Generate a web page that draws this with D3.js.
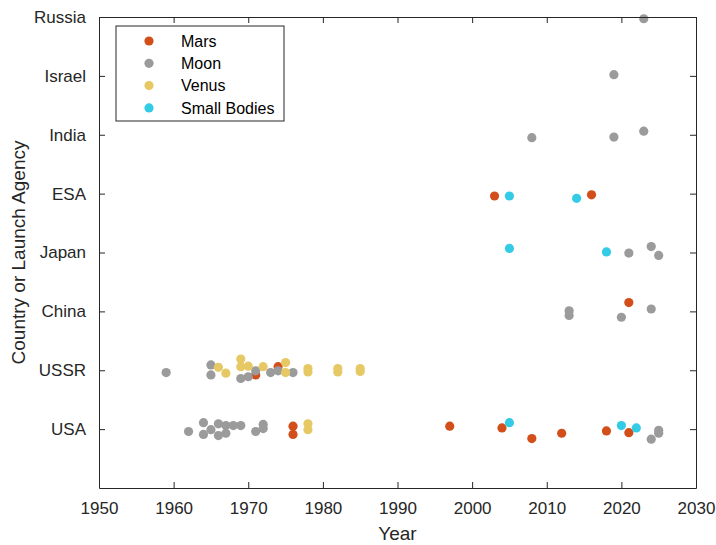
<!DOCTYPE html>
<html>
<head>
<meta charset="utf-8">
<script src="https://cdn.jsdelivr.net/npm/d3@7"></script>
<style>
  body { margin: 0; background: #fff; }
  svg text { font-family: "Liberation Sans", Arial, sans-serif; fill: #262626; }
</style>
</head>
<body>
<div id="chart"></div>
<script>
// categories on the y axis, bottom to top
const countries = ['USA', 'USSR', 'China', 'Japan', 'ESA', 'India', 'Israel', 'Russia'];
const xTicks = [1950, 1960, 1970, 1980, 1990, 2000, 2010, 2020, 2030];
const seriesNames = ['Mars', 'Moon', 'Venus', 'Small Bodies'];
const seriesColors = ['#d24f1c', '#9b9b9b', '#e6c965', '#33cbe6'];

// each mission: launch year, country, vertical swarm offset (category units)
const marsYear    = [1971, 1974, 1976, 1976, 1997, 2003, 2004, 2008, 2012, 2016, 2018, 2021, 2021];
const marsCountry = ['USSR', 'USSR', 'USA', 'USA', 'USA', 'ESA', 'USA', 'USA', 'USA', 'ESA', 'USA', 'USA', 'China'];
const marsJitter  = [-0.08, 0.06, 0.05, -0.09, 0.05, -0.04, 0.02, -0.16, -0.07, -0.02, -0.03, -0.06, 0.15];

const moonYear    = [1959, 1962, 1964, 1964, 1965, 1965, 1965, 1966, 1966, 1967, 1967, 1968, 1969,
                     1969, 1970, 1971, 1971, 1972, 1972, 1973, 1974, 1976, 2008, 2013, 2013, 2019,
                     2019, 2020, 2021, 2023, 2023, 2024, 2024, 2024, 2025, 2025, 2025];
const moonCountry = ['USSR', 'USA', 'USA', 'USA', 'USA', 'USSR', 'USSR', 'USA', 'USA', 'USA', 'USA', 'USA', 'USA',
                     'USSR', 'USSR', 'USA', 'USSR', 'USA', 'USA', 'USSR', 'USSR', 'USSR', 'India', 'China', 'China', 'Israel',
                     'India', 'China', 'Japan', 'India', 'Russia', 'USA', 'China', 'Japan', 'USA', 'USA', 'Japan'];
const moonJitter  = [-0.04, -0.04, 0.11, -0.09, -0.01, 0.09, -0.08, 0.09, -0.11, 0.06, -0.07, 0.06, 0.06,
                     -0.14, -0.11, -0.04, -0.01, 0.08, 0.01, -0.04, -0.01, -0.04, -0.05, 0.01, -0.07, 0.02,
                     -0.04, -0.10, -0.01, 0.06, -0.03, -0.17, 0.04, 0.10, -0.02, -0.07, -0.05];

const venusYear    = [1966, 1967, 1969, 1969, 1970, 1972, 1975, 1975, 1978, 1978, 1978, 1978, 1982, 1982, 1985, 1985];
const venusCountry = ['USSR', 'USSR', 'USSR', 'USSR', 'USSR', 'USSR', 'USSR', 'USSR', 'USA', 'USA', 'USSR', 'USSR',
                      'USSR', 'USSR', 'USSR', 'USSR'];
const venusJitter  = [0.05, -0.05, 0.19, 0.06, 0.07, 0.06, 0.13, -0.04, 0.09, -0.01, 0.03, -0.03, 0.03, -0.03, 0.03, -0.02];

const smallYear    = [2005, 2005, 2005, 2014, 2018, 2020, 2022];
const smallCountry = ['USA', 'ESA', 'Japan', 'ESA', 'Japan', 'USA', 'USA'];
const smallJitter  = [0.11, -0.04, 0.07, -0.08, 0.01, 0.06, 0.02];

const W = 716, H = 545;
const margin = { top: 17, right: 20, bottom: 57, left: 99 };
const width = W - margin.left - margin.right;
const height = H - margin.top - margin.bottom;

const svg = d3.select('#chart').append('svg')
    .attr('width', W)
    .attr('height', H);

const g = svg.append('g')
    .attr('transform', `translate(${margin.left},${margin.top})`);

const x = d3.scaleLinear().domain([1950, 2030]).range([0, width]);
const y = d3.scaleLinear().domain([0, countries.length]).range([height, 0]);
const catPos = c => countries.indexOf(c) + 1;

// points, series by series
const series = [
    { year: marsYear, country: marsCountry, jitter: marsJitter },
    { year: moonYear, country: moonCountry, jitter: moonJitter },
    { year: venusYear, country: venusCountry, jitter: venusJitter },
    { year: smallYear, country: smallCountry, jitter: smallJitter }
];

series.forEach((s, k) => {
    const pts = s.year.map((yr, i) => ({ yr, c: s.country[i], j: s.jitter[i] }));
    g.append('g').selectAll('circle')
        .data(pts)
        .enter().append('circle')
        .attr('cx', d => x(d.yr))
        .attr('cy', d => y(catPos(d.c) + d.j))
        .attr('r', 4.6)
        .style('fill', seriesColors[k]);
});

// axes (box with inward ticks)
const tickLen = 6;
const axisColor = '#262626';

const xb = g.append('g').attr('transform', `translate(0,${height})`)
    .call(d3.axisBottom(x).tickValues(xTicks).tickFormat(d3.format('d')).tickSizeInner(-tickLen).tickSizeOuter(0).tickPadding(14));
const xt = g.append('g')
    .call(d3.axisTop(x).tickValues(xTicks).tickFormat('').tickSizeInner(-tickLen).tickSizeOuter(0));
const yl = g.append('g')
    .call(d3.axisLeft(y).tickValues(d3.range(1, countries.length + 1))
        .tickFormat(i => countries[i - 1]).tickSizeInner(-tickLen).tickSizeOuter(0).tickPadding(13));
const yr = g.append('g').attr('transform', `translate(${width},0)`)
    .call(d3.axisRight(y).tickValues(d3.range(1, countries.length + 1)).tickFormat('').tickSizeInner(-tickLen).tickSizeOuter(0));

[xb, xt, yl, yr].forEach(a => {
    a.select('.domain').attr('stroke', axisColor).attr('stroke-width', 1);
    a.selectAll('.tick line').attr('stroke', axisColor).attr('stroke-width', 1);
    a.selectAll('.tick text').style('font-size', '17px').attr('fill', axisColor);
});

// axis labels
g.append('text')
    .attr('x', width / 2)
    .attr('y', height + 52)
    .attr('text-anchor', 'middle')
    .style('font-size', '19px')
    .text('Year');

g.append('text')
    .attr('transform', `translate(${-74},${height / 2}) rotate(-90)`)
    .attr('text-anchor', 'middle')
    .style('font-size', '19px')
    .text('Country or Launch Agency');

// legend
const leg = svg.append('g').attr('transform', 'translate(116,26)');
leg.append('rect')
    .attr('width', 168)
    .attr('height', 95)
    .style('fill', '#fff')
    .style('stroke', '#262626')
    .style('stroke-width', 1);

seriesNames.forEach((name, i) => {
    const row = leg.append('g').attr('transform', `translate(0,${15 + i * 22.3})`);
    row.append('circle')
        .attr('cx', 33)
        .attr('cy', 0)
        .attr('r', 4.6)
        .style('fill', seriesColors[i]);
    row.append('text')
        .attr('x', 65)
        .attr('y', 0)
        .attr('dy', '0.35em')
        .style('font-size', '16px')
        .style('fill', '#000')
        .text(name);
});
</script>
</body>
</html>
